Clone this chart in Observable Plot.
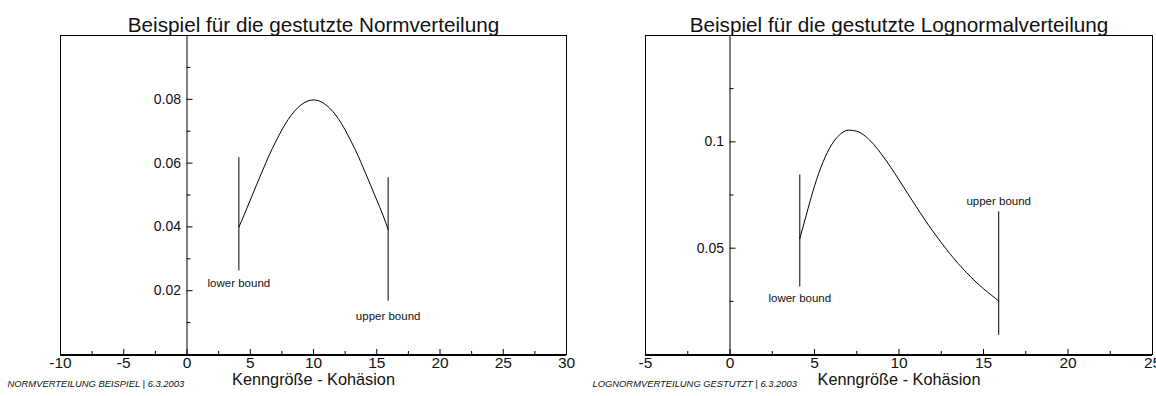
<!DOCTYPE html>
<html>
<head>
<meta charset="utf-8">
<script src="https://cdn.jsdelivr.net/npm/d3@7"></script>
<script src="https://cdn.jsdelivr.net/npm/@observablehq/plot@0.6"></script>
<style>
  html, body { margin: 0; padding: 0; background: #fff; }
  #charts { display: flex; width: 1156px; height: 396px; }
  #charts svg { flex: none; }
</style>
</head>
<body>
<div id="charts"></div>
<script>
// Truncated normal distribution (mean 10, sd 5), cut at the bounds
const normX = [4.1, 4.5, 5, 5.5, 6, 6.5, 7, 7.5, 8, 8.5, 9, 9.5, 10, 10.5, 11, 11.5, 12, 12.5, 13, 13.5, 14, 14.5, 15, 15.5, 15.9];
const normY = [0.0399, 0.0436, 0.0484, 0.0532, 0.0579, 0.0625, 0.0666, 0.0704, 0.0737, 0.0763, 0.0782, 0.0794, 0.0798, 0.0794, 0.0782, 0.0763, 0.0737, 0.0704, 0.0666, 0.0625, 0.0579, 0.0532, 0.0484, 0.0436, 0.0392];
const normBounds = [4.1, 15.9];
const normBoundTop = [0.0617, 0.0554];
const normBoundBottom = [0.0262, 0.0167];
const normBoundLabelY = [0.0224, 0.0120];

// Truncated lognormal distribution, cut at the bounds
const logX = [4.13, 4.5, 5, 5.5, 6, 6.5, 7, 7.5, 8, 8.5, 9, 9.5, 10, 10.5, 11, 11.5, 12, 12.5, 13, 13.5, 14, 14.5, 15, 15.5, 15.9];
const logY = [0.0545, 0.0652, 0.0792, 0.0904, 0.0985, 0.1034, 0.1055, 0.1050, 0.1027, 0.0988, 0.0938, 0.0882, 0.0821, 0.0759, 0.0698, 0.0637, 0.0580, 0.0526, 0.0475, 0.0428, 0.0385, 0.0345, 0.0309, 0.0277, 0.0252];
const logBounds = [4.13, 15.9];
const logBoundTop = [0.0844, 0.0671];
const logBoundBottom = [0.0317, 0.0090];
const logBoundLabelY = [0.0262, 0.0718];

const boundLabels = ["lower bound", "upper bound"];

// Axis ticks and labels
const normXTicks = [-10, -5, 0, 5, 10, 15, 20, 25, 30];
const normXTickLabels = ["-10", "-5", "0", "5", "10", "15", "20", "25", "30"];
const normXMinor = [-7.5, -2.5, 2.5, 7.5, 12.5, 17.5, 22.5, 27.5];
const normYTicks = [0.02, 0.04, 0.06, 0.08];
const normYTickLabels = ["0.02", "0.04", "0.06", "0.08"];
const normYMinor = [0.01, 0.03, 0.05, 0.07, 0.09];

const logXTicks = [-5, 0, 5, 10, 15, 20, 25];
const logXTickLabels = ["-5", "0", "5", "10", "15", "20", "25"];
const logXMinor = [-2.5, 2.5, 7.5, 12.5, 17.5, 22.5];
const logYTicks = [0.05, 0.1];
const logYTickLabels = ["0.05", "0.1"];
const logYMinor = [0.025, 0.075, 0.125];

const titles = ["Beispiel für die gestutzte Normverteilung", "Beispiel für die gestutzte Lognormalverteilung"];
const xLabel = "Kenngröße - Kohäsion";
const footnotes = ["NORMVERTEILUNG BEISPIEL | 6.3.2003", "LOGNORMVERTEILUNG GESTUTZT | 6.3.2003"];

const FONT = "'Liberation Sans', Arial, sans-serif";
const INK = "#111";

function chart({xs, ys, bounds, bTop, bBottom, bLabelY, xDomain, yDomain,
                xTicks, xTickLabels, xMinor, yTicks, yTickLabels, yMinor,
                title, footnote, marginLeft, marginRight}) {
  const pts = xs.map((x, i) => ({x, y: ys[i]}));
  const bnd = bounds.map((x, i) => ({x, top: bTop[i], bottom: bBottom[i], ly: bLabelY[i], label: boundLabels[i]}));
  return Plot.plot({
    width: 578,
    height: 396,
    marginLeft,
    marginRight,
    marginTop: 35,
    marginBottom: 42,
    style: {fontFamily: FONT, background: "#fff", color: INK, overflow: "visible"},
    x: {domain: xDomain, axis: null},
    y: {domain: yDomain, axis: null},
    marks: [
      Plot.frame({stroke: "#000", strokeWidth: 1}),
      // vertical axis through x = 0
      Plot.ruleX([0], {stroke: "#000", strokeWidth: 1}),
      // heavy baseline
      Plot.ruleY([0], {stroke: "#000", strokeWidth: 2, dy: 0.5}),
      // x ticks pointing inward (up)
      Plot.ruleX(xTicks, {x: d => d, y1: 0, y2: 0, insetTop: -5, stroke: "#000"}),
      Plot.ruleX(xMinor, {x: d => d, y1: 0, y2: 0, insetTop: -3, stroke: "#000"}),
      // y ticks pointing right from the x = 0 axis
      Plot.ruleY(yTicks, {y: d => d, x1: 0, x2: 0, insetRight: -6, stroke: "#000"}),
      Plot.ruleY(yMinor, {y: d => d, x1: 0, x2: 0, insetRight: -4, stroke: "#000"}),
      // tick labels
      Plot.text(xTicks, {x: d => d, frameAnchor: "bottom", text: (d, i) => xTickLabels[i], lineAnchor: "top", dy: 2, fontSize: 15.5, fill: INK}),
      Plot.text(yTicks, {x: 0, y: d => d, text: (d, i) => yTickLabels[i], textAnchor: "end", dx: -6, fontSize: 14, fill: INK}),
      // density curve and the truncation bounds
      Plot.line(pts, {x: "x", y: "y", stroke: "#000", strokeWidth: 1, curve: "monotone-x"}),
      Plot.ruleX(bnd, {x: "x", y1: "top", y2: "bottom", stroke: "#000", strokeWidth: 1}),
      Plot.text(bnd, {x: "x", y: "ly", text: "label", fontSize: 11.5, fill: INK}),
      // titles and notes
      Plot.text([title], {frameAnchor: "top", dy: -18, fontSize: 20.7, fill: INK}),
      Plot.text([xLabel], {frameAnchor: "bottom", dy: 30, fontSize: 16.3, fill: INK}),
      Plot.text([footnote], {frameAnchor: "bottom-left", dx: -53, dy: 32, textAnchor: "start", fontSize: 9.4, fontStyle: "italic", fill: INK})
    ]
  });
}

const root = document.getElementById("charts");

root.append(chart({
  xs: normX, ys: normY, bounds: normBounds, bTop: normBoundTop, bBottom: normBoundBottom, bLabelY: normBoundLabelY,
  xDomain: [-10, 30], yDomain: [0, 0.1],
  xTicks: normXTicks, xTickLabels: normXTickLabels, xMinor: normXMinor,
  yTicks: normYTicks, yTickLabels: normYTickLabels, yMinor: normYMinor,
  title: titles[0], footnote: footnotes[0], marginLeft: 60, marginRight: 12
}));

root.append(chart({
  xs: logX, ys: logY, bounds: logBounds, bTop: logBoundTop, bBottom: logBoundBottom, bLabelY: logBoundLabelY,
  xDomain: [-5, 25], yDomain: [0, 0.15],
  xTicks: logXTicks, xTickLabels: logXTickLabels, xMinor: logXMinor,
  yTicks: logYTicks, yTickLabels: logYTickLabels, yMinor: logYMinor,
  title: titles[1], footnote: footnotes[1], marginLeft: 67, marginRight: 4
}));
</script>
</body>
</html>
